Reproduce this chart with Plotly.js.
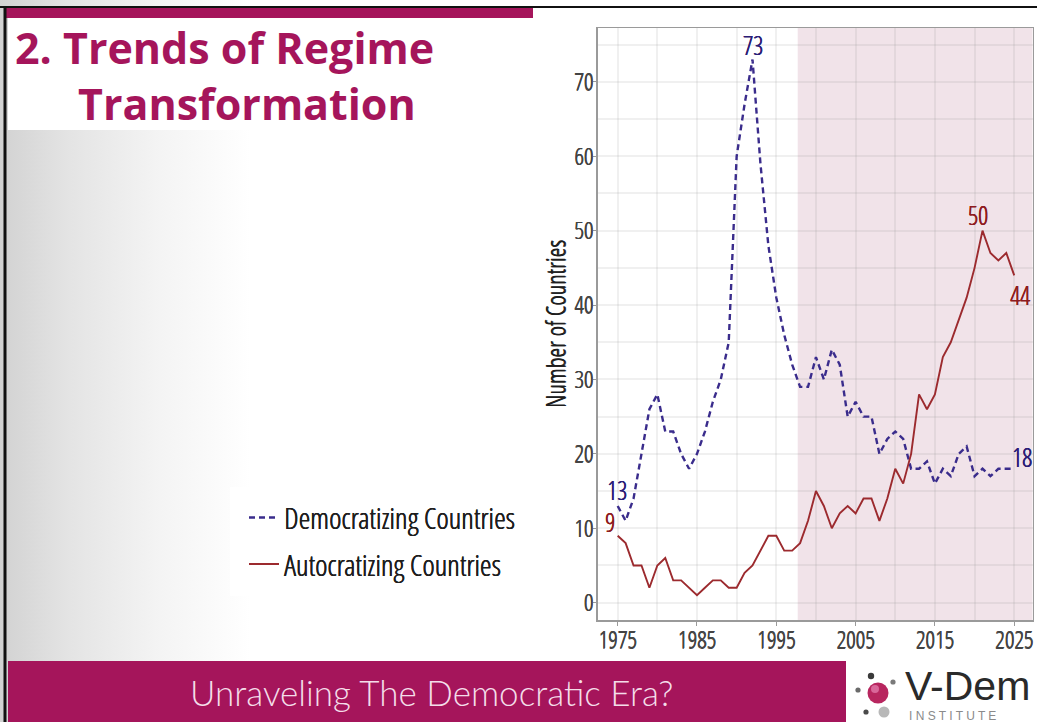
<!DOCTYPE html>
<html>
<head>
<meta charset="utf-8">
<script src="https://cdn.plot.ly/plotly-3.0.1.min.js"></script>
<style>
html,body{margin:0;padding:0;background:#ffffff;overflow:hidden;}
#chart{width:1037px;height:722px;background:linear-gradient(90deg,#d2d2d2 0px,#e4e4e4 70px,#f4f4f4 160px,#ffffff 250px);}
</style>
</head>
<body>
<div id="chart"></div>
<script>
// ---------------- data ----------------
const years = [1975,1976,1977,1978,1979,1980,1981,1982,1983,1984,
               1985,1986,1987,1988,1989,1990,1991,1992,1993,1994,
               1995,1996,1997,1998,1999,2000,2001,2002,2003,2004,
               2005,2006,2007,2008,2009,2010,2011,2012,2013,2014,
               2015,2016,2017,2018,2019,2020,2021,2022,2023,2024,2025];
const democratizing = [13,11,14,20,26,28,23,23,20,18,
                       20,23,27,30,35,60,67,73,59,48,
                       41,36,32,29,29,33,30,34,32,25,
                       27,25,25,20,22,23,22,18,18,19,
                       16,18,17,20,21,17,18,17,18,18,18];
const autocratizing = [9,8,5,5,2,5,6,3,3,2,
                       1,2,3,3,2,2,4,5,7,9,
                       9,7,7,8,11,15,13,10,12,13,
                       12,14,14,11,14,18,16,20,28,26,
                       28,33,35,38,41,45,50,47,46,47,44];
const seriesNames = ['Democratizing Countries', 'Autocratizing Countries'];
const xTickValues = [1975, 1985, 1995, 2005, 2015, 2025];
const xTickLabels = ['1975', '1985', '1995', '2005', '2015', '2025'];
const yTickValues = [0, 10, 20, 30, 40, 50, 60, 70];
const yTickLabels = ['0', '10', '20', '30', '40', '50', '60', '70'];
const shadeStartYear = 1997.7;
const titleLines = ['2. Trends of Regime', 'Transformation'];
const footerText = 'Unraveling The Democratic Era?';
const yAxisTitle = 'Number of Countries';

// ---------------- font selection (closest to a condensed regular face) ----------------
const ctx = document.createElement('canvas').getContext('2d');
function installed(fam, sample, wt) {
  ctx.font = (wt || 400) + ' 100px "' + fam + '", monospace'; const a = ctx.measureText(sample).width;
  ctx.font = (wt || 400) + ' 100px "' + fam + '", serif'; const b = ctx.measureText(sample).width;
  return Math.abs(a - b) < 0.01;
}
function pickNarrow(sample, targetRatio) {
  const cands = [
    ['Noto Sans Condensed', 400], ['Noto Sans SemiCondensed', 400], ['Roboto Condensed', 400],
    ['Liberation Sans Narrow', 400], ['DejaVu Sans Condensed', 400],
    ['Open Sans Condensed Light', 300], ['Open Sans Condensed', 300],
    ['Roboto', 400], ['Liberation Sans', 400]
  ];
  let best = cands[cands.length - 1], bestDiff = 1e9;
  for (const c of cands) {
    if (!installed(c[0], sample, c[1])) continue;
    ctx.font = c[1] + ' 100px "' + c[0] + '"';
    const w = ctx.measureText(sample).width;
    const cap = ctx.measureText('H').actualBoundingBoxAscent || 72;
    const d = Math.abs(w / cap - targetRatio);
    if (d < bestDiff - 0.3) { bestDiff = d; best = c; }
  }
  return best;
}
const NARROW_PICK = pickNarrow('Democratizing Countries', 10.6);
const NARROW = '"' + NARROW_PICK[0] + '", "Liberation Sans", sans-serif';
const NW = NARROW_PICK[1];
const THIN = NW < 400;   // light face: thicken it a little with a same-colour shadow
function sizeFor(text, targetWidth, fam, weight) {
  ctx.font = (weight || 400) + ' 100px ' + fam;
  return 100 * targetWidth / ctx.measureText(text).width;
}
const legendSize = sizeFor(seriesNames[0], 231, NARROW, NW);
const tickSize = Math.min(24, sizeFor('1975', 39, NARROW, NW));
const yTitleSize = sizeFor(yAxisTitle, 168, NARROW, NW);
const labelSize = Math.min(26, sizeFor('73', 20, NARROW, NW));
const nf = (size, color) => {
  const f = {family: NARROW, weight: NW, size: size, color: color};
  if (THIN) f.shadow = '0.5px 0 0 ' + color + ', 0 0.3px 0 ' + color;
  return f;
};

// ---------------- styling ----------------
const W = 1037, H = 722;
const px = v => v / W;
const py = v => 1 - v / H;
const MAGENTA = '#A5155B';
const BLUE = '#3A2C8C';
const RED = '#9C2A2E';
const GRID = 'rgba(140,140,140,0.13)';
const xMinor = xTickValues.map(v => v + 5);
const yMinor = yTickValues.map(v => v + 5);

const traces = [
  {
    x: years, y: democratizing, type: 'scatter', mode: 'lines',
    name: seriesNames[0], legendgroup: 'd',
    line: {color: BLUE, width: 2.4, dash: '6px,4px'}
  },
  {
    x: years, y: autocratizing, type: 'scatter', mode: 'lines',
    name: seriesNames[1], legendgroup: 'a',
    line: {color: RED, width: 1.9}
  }
];

const last = years.length - 1;
const dPeak = democratizing.indexOf(Math.max(...democratizing));
const aPeak = autocratizing.indexOf(Math.max(...autocratizing));
const NB = '\u00A0';

const annotations = [
  // data labels
  {x: years[dPeak], y: democratizing[dPeak], xref: 'x', yref: 'y', text: String(democratizing[dPeak]),
   showarrow: false, yshift: 15, font: nf(labelSize, '#2B1D76')},
  {x: years[0], y: democratizing[0], xref: 'x', yref: 'y', text: String(democratizing[0]),
   showarrow: false, yshift: 16, xshift: -1, font: nf(labelSize, '#2B1D76')},
  {x: years[0], y: autocratizing[0], xref: 'x', yref: 'y', text: String(autocratizing[0]),
   showarrow: false, yshift: 14, xshift: -8, font: nf(labelSize, '#8E1B20')},
  {x: years[aPeak], y: autocratizing[aPeak], xref: 'x', yref: 'y', text: String(autocratizing[aPeak]),
   showarrow: false, yshift: 16, xshift: -5, font: nf(labelSize, '#8E1B20')},
  {x: years[last], y: autocratizing[last], xref: 'x', yref: 'y', text: String(autocratizing[last]),
   showarrow: false, yshift: -20, xshift: 6, font: nf(labelSize, '#8E1B20')},
  {x: years[last], y: democratizing[last], xref: 'x', yref: 'y', text: String(democratizing[last]),
   showarrow: false, yshift: 12, xshift: 8, font: nf(labelSize, '#2B1D76')},
  // slide title (two lines in one text)
  {x: px(224), y: py(75), xref: 'paper', yref: 'paper',
   text: titleLines[0] + '<br>' + NB + NB + NB + NB + titleLines[1], showarrow: false,
   xanchor: 'center', yanchor: 'middle', align: 'center',
   font: {family: '"Open Sans", sans-serif', weight: 700, size: 43, color: MAGENTA}},
  // footer
  {x: px(431), y: py(692), xref: 'paper', yref: 'paper', text: footerText, showarrow: false,
   xanchor: 'center', yanchor: 'middle',
   font: {family: 'Lato, "Open Sans", sans-serif', weight: 300, size: 35, color: '#F4DDE9'}},
  {x: px(903), y: py(686), xref: 'paper', yref: 'paper', text: 'V-Dem', showarrow: false,
   xanchor: 'left', yanchor: 'middle',
   font: {family: '"Liberation Sans", Arial, sans-serif', weight: 400, size: 41, color: '#2a2a2a'}},
  {x: px(907), y: py(715.5), xref: 'paper', yref: 'paper', text: 'I N S T I T U T E', showarrow: false,
   xanchor: 'left', yanchor: 'middle',
   font: {family: '"Liberation Sans", Arial, sans-serif', weight: 400, size: 12, color: '#8a8a8a'}}
];

function circ(cx, cy, r, fill) {
  return {type: 'circle', xref: 'paper', yref: 'paper', layer: 'above',
          x0: px(cx - r), x1: px(cx + r), y0: py(cy + r), y1: py(cy - r),
          fillcolor: fill, line: {width: 0}};
}
function rect(x0, y0, x1, y1, fill, layer) {
  return {type: 'rect', xref: 'paper', yref: 'paper', layer: layer || 'below',
          x0: px(x0), x1: px(x1), y0: py(y1), y1: py(y0),
          fillcolor: fill, line: {width: 0}};
}

const shapes = [
  rect(533, 8, 1037, 660, '#ffffff'),            // chart panel
  rect(8, 18, 460, 130, '#ffffff'),              // title box
  rect(230, 487, 532, 596, '#ffffff'),           // legend box
  rect(5, 7, 533, 18, MAGENTA),                  // top banner
  rect(8, 661, 846, 722, MAGENTA),               // footer banner
  rect(846, 660, 1037, 722, '#ffffff'),          // logo area
  {type: 'rect', xref: 'x', yref: 'y domain', layer: 'below',
   x0: shadeStartYear, x1: 2027.33, y0: 0, y1: 1,
   fillcolor: '#F1E3E9', line: {width: 0}},
  {type: 'line', xref: 'paper', yref: 'paper', layer: 'above',
   x0: 0, x1: 1, y0: py(7), y1: py(7), line: {color: '#111', width: 2}},
  {type: 'line', xref: 'paper', yref: 'paper', layer: 'above',
   x0: px(5), x1: px(5), y0: 0, y1: py(7), line: {color: '#111', width: 3}},
  // logo dots
  circ(871, 676, 3.2, '#3a3a3a'),
  circ(858, 690, 2.6, '#6a6a6a'),
  circ(893, 682, 2.6, '#7a7a7a'),
  circ(878, 693, 10.5, '#B8265F'),
  circ(875, 689, 4, '#D9689A'),
  circ(866, 712, 2.6, '#4a4a4a'),
  circ(884, 712, 5.5, '#b8b8b8')
];

const itemH = 1.3 * legendSize + 2.5;
const layout = {
  width: W, height: H,
  margin: {l: 0, r: 0, t: 0, b: 0, pad: 0},
  paper_bgcolor: 'rgba(0,0,0,0)',
  plot_bgcolor: 'rgba(0,0,0,0)',
  showlegend: true,
  legend: {
    x: px(244), xanchor: 'left', y: py(519 - (0.65 * legendSize + 8)), yanchor: 'top',
    bgcolor: 'rgba(0,0,0,0)', borderwidth: 0,
    font: nf(legendSize, '#1e1e1e'),
    traceorder: 'grouped', tracegroupgap: Math.max(0, 46 - itemH), itemwidth: 30
  },
  xaxis: {
    domain: [px(597.7), px(1032.7)],
    range: [1972.48, 2027.33],
    tickmode: 'array', tickvals: xTickValues, ticktext: xTickLabels,
    showgrid: true, gridcolor: GRID, gridwidth: 2,
    minor: {tickmode: 'array', tickvals: xMinor, showgrid: true, gridcolor: GRID, gridwidth: 2, ticks: ''},
    showline: true, mirror: true, linecolor: '#9a9a9a', linewidth: 1.5,
    ticks: 'outside', ticklen: 4, tickcolor: '#9a9a9a', ticklabelstandoff: -6,
    zeroline: false, fixedrange: true,
    tickfont: nf(tickSize, '#444444')
  },
  yaxis: {
    domain: [py(620), py(28)],
    range: [-2.33, 77.24],
    tickmode: 'array', tickvals: yTickValues, ticktext: yTickLabels,
    showgrid: true, gridcolor: GRID, gridwidth: 2,
    minor: {tickmode: 'array', tickvals: yMinor, showgrid: true, gridcolor: GRID, gridwidth: 2, ticks: ''},
    showline: true, mirror: true, linecolor: '#9a9a9a', linewidth: 1.5,
    ticks: 'outside', ticklen: 3, tickcolor: '#9a9a9a', ticklabelstandoff: -5,
    zeroline: false, fixedrange: true,
    tickfont: nf(tickSize, '#444444'),
    title: {text: yAxisTitle, standoff: 1, font: nf(yTitleSize, '#1e1e1e')}
  },
  shapes: shapes,
  annotations: annotations
};

Plotly.newPlot('chart', traces, layout, {staticPlot: true, displayModeBar: false});
</script>
</body>
</html>
